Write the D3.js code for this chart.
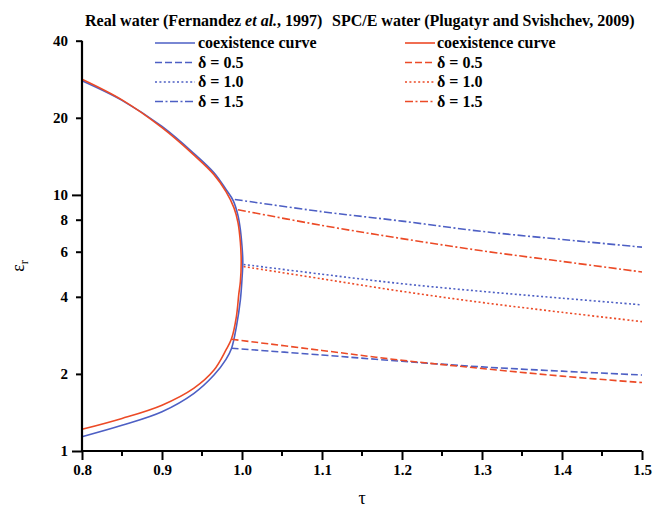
<!DOCTYPE html>
<meta charset="utf-8">
<script src="https://d3js.org/d3.v7.min.js"></script>
<style>
  body { margin: 0; background: #fff; }
</style>
<div id="chart"></div>
<script>

// coexistence curves, upper (liquid) branch then lower (vapour) branch back
var realCoexTau = [0.800, 0.850, 0.900, 0.940, 0.965, 0.980, 0.989, 0.995, 0.998, 1.000, 1.001,
                   1.000, 0.998, 0.993, 0.987, 0.980, 0.965, 0.940, 0.900, 0.850, 0.800];
var realCoexEps = [27.9, 23.4, 18.5, 14.5, 12.2, 10.5, 9.5, 8.3, 7.3, 6.3, 5.5,
                   4.7, 3.9, 3.06, 2.52, 2.28, 1.98, 1.68, 1.424, 1.26, 1.137];
var spceCoexTau = [0.800, 0.850, 0.900, 0.940, 0.965, 0.980, 0.990, 0.995, 0.998, 0.999,
                   0.998, 0.996, 0.993, 0.987, 0.980, 0.965, 0.940, 0.900, 0.850, 0.800];
var spceCoexEps = [28.3, 23.5, 18.3, 14.3, 12.0, 10.3, 8.9, 7.8, 6.5, 5.5,
                   4.6, 4.1, 3.35, 2.75, 2.48, 2.07, 1.76, 1.51, 1.34, 1.215];

// isochores
var isoTau = [1.1, 1.2, 1.3, 1.4, 1.5];
var real05 = {start: [0.987, 2.52], eps: [2.37, 2.24, 2.13, 2.05, 1.98]};
var real10 = {start: [1.002, 5.35], eps: [4.9, 4.5, 4.2, 3.95, 3.72]};
var real15 = {start: [0.991, 9.6],  eps: [8.6, 7.9, 7.2, 6.7, 6.25]};
var spce05 = {start: [0.987, 2.73], eps: [2.47, 2.26, 2.1, 1.96, 1.85]};
var spce10 = {start: [1.002, 5.25], eps: [4.7, 4.2, 3.8, 3.48, 3.2]};
var spce15 = {start: [0.995, 8.75], eps: [7.6, 6.75, 6.05, 5.5, 5.0]};

var xTicks = [0.8, 0.9, 1.0, 1.1, 1.2, 1.3, 1.4, 1.5];
var xMinor = [0.85, 0.95, 1.05, 1.15, 1.25, 1.35, 1.45];
var yTicks = [1, 2, 4, 6, 8, 10, 20, 40];
var legendLabels = ["coexistence curve", "\u03b4 = 0.5", "\u03b4 = 1.0", "\u03b4 = 1.5"];

var blue = "#4d5fc4", red = "#ec4a26";
var dashes = [null, "7,3", "2,2.4", "8,2.5,2,2.5"];

var width = 653, height = 510;
var svg = d3.select("#chart").append("svg")
    .attr("width", width)
    .attr("height", height);

var x = d3.scaleLinear().domain([0.8, 1.5]).range([82, 642]);
var y = d3.scaleLog().domain([1, 40]).range([451, 40.7]);

var line = d3.line()
    .x(function(d) { return x(d[0]); })
    .y(function(d) { return y(d[1]); })
    .curve(d3.curveCatmullRom);

function zipPts(t, e) { return t.map(function(v, i) { return [v, e[i]]; }); }
function isoPts(s) { return [s.start].concat(zipPts(isoTau, s.eps)); }

var series = [
  {pts: zipPts(realCoexTau, realCoexEps), color: blue, dash: dashes[0]},
  {pts: zipPts(spceCoexTau, spceCoexEps), color: red, dash: dashes[0]},
  {pts: isoPts(real05), color: blue, dash: dashes[1]},
  {pts: isoPts(spce05), color: red, dash: dashes[1]},
  {pts: isoPts(real10), color: blue, dash: dashes[2]},
  {pts: isoPts(spce10), color: red, dash: dashes[2]},
  {pts: isoPts(real15), color: blue, dash: dashes[3]},
  {pts: isoPts(spce15), color: red, dash: dashes[3]}
];

svg.append("g").selectAll("path")
  .data(series)
  .enter().append("path")
    .attr("d", function(d) { return line(d.pts); })
    .attr("fill", "none")
    .attr("stroke", function(d) { return d.color; })
    .attr("stroke-width", 1.6)
    .attr("stroke-dasharray", function(d) { return d.dash; });

// X axis
var xAxis = svg.append("g").attr("transform", "translate(0," + y(1) + ")");
xAxis.call(d3.axisBottom(x).tickValues(xTicks).tickSize(9).tickFormat(d3.format(".1f")));
xMinor.forEach(function(v) {
  xAxis.append("line").attr("x1", x(v)).attr("x2", x(v)).attr("y1", 0).attr("y2", 5)
    .attr("stroke", "#000").attr("stroke-width", 2);
});

// Y axis
var yAxis = svg.append("g").attr("transform", "translate(" + x(0.8) + ",0)");
yAxis.call(d3.axisLeft(y).tickValues(yTicks).tickFormat(d3.format("d")));
yAxis.selectAll(".tick line").attr("x2", function(d) { return (d === 1 || d === 10) ? -10 : -6; });

svg.selectAll(".domain").attr("stroke", "#000").attr("stroke-width", 2.2);
svg.selectAll(".tick line").attr("stroke", "#000").attr("stroke-width", 2);
xAxis.selectAll(".domain").attr("d", "M" + x(0.8) + ",0H" + x(1.5));
yAxis.selectAll(".domain").attr("d", "M0," + y(1) + "V" + y(40));
svg.selectAll(".tick text").style("font-size", "15px");
xAxis.selectAll(".tick text").attr("y", 13);
yAxis.selectAll(".tick text").attr("x", -14);

// axis titles
svg.append("text")
    .attr("x", x(1.15))
    .attr("y", 504)
    .attr("text-anchor", "middle")
    .style("font-size", "18px")
    .style("font-weight", "normal")
    .text("\u03c4");

var yl = svg.append("text")
    .attr("transform", "translate(24,266) rotate(-90)")
    .attr("text-anchor", "middle")
    .style("font-size", "18px")
    .style("font-weight", "normal");
yl.append("tspan").text("\u03b5");
yl.append("tspan").style("font-size", "12px").attr("dy", 4).text("r");

// legends
var legends = [
  {title: ["Real water (Fernandez ", "et al.", ", 1997)"], tx: 85, x1: 155, x2: 195, lx: 198, color: blue},
  {title: ["SPC/E water (Plugatyr and Svishchev, 2009)"], tx: 332, x1: 405, x2: 435, lx: 437, color: red}
];
var rowY = [43, 62.5, 82, 101.5];

legends.forEach(function(L) {
  var t = svg.append("text").attr("x", L.tx).attr("y", 25.5).style("font-size", "16px");
  L.title.forEach(function(s, i) {
    t.append("tspan").style("font-style", i === 1 ? "italic" : "normal").text(s);
  });
  legendLabels.forEach(function(lab, i) {
    svg.append("line")
      .attr("x1", L.x1).attr("x2", L.x2)
      .attr("y1", rowY[i]).attr("y2", rowY[i])
      .attr("stroke", L.color).attr("stroke-width", 1.6)
      .attr("stroke-dasharray", dashes[i]);
    svg.append("text")
      .attr("x", L.lx).attr("y", rowY[i] + 5)
      .style("font-size", "16px")
      .text(lab);
  });
});

// serif bold everywhere, as in the figure
svg.selectAll("g").attr("font-family", null);
svg.selectAll("text")
    .style("font-family", "'Liberation Serif'")
    .style("font-weight", function() { return this.style.fontWeight || "bold"; })
    .attr("fill", "#000");

</script>
